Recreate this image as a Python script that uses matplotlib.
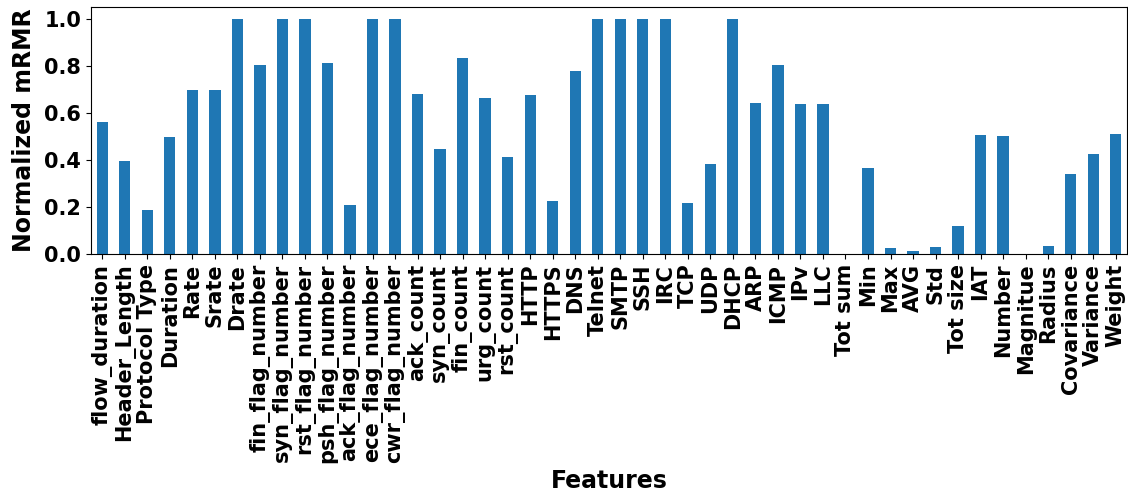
import matplotlib
matplotlib.use("Agg")
import matplotlib.pyplot as plt
import numpy as np

features = [
    "flow_duration", "Header_Length", "Protocol Type", "Duration", "Rate",
    "Srate", "Drate", "fin_flag_number", "syn_flag_number", "rst_flag_number",
    "psh_flag_number", "ack_flag_number", "ece_flag_number", "cwr_flag_number",
    "ack_count", "syn_count", "fin_count", "urg_count", "rst_count", "HTTP",
    "HTTPS", "DNS", "Telnet", "SMTP", "SSH", "IRC", "TCP", "UDP", "DHCP",
    "ARP", "ICMP", "IPv", "LLC", "Tot sum", "Min", "Max", "AVG", "Std",
    "Tot size", "IAT", "Number", "Magnitue", "Radius", "Covariance",
    "Variance", "Weight",
]

mrmr_scores = [
    0.561, 0.395, 0.189, 0.499, 0.699,
    0.699, 0.998, 0.803, 1.000, 1.000,
    0.814, 0.209, 0.998, 0.998,
    0.679, 0.446, 0.834, 0.662, 0.414, 0.677,
    0.225, 0.779, 0.998, 0.998, 0.998, 0.998, 0.216, 0.382, 0.998,
    0.643, 0.803, 0.638, 0.638, 0.0, 0.365, 0.027, 0.014, 0.031,
    0.118, 0.505, 0.503, 0.0, 0.033, 0.340,
    0.426, 0.509,
]

yticks = [0.0, 0.2, 0.4, 0.6, 0.8, 1.0]

fig = plt.figure(figsize=(11.28, 4.95), dpi=100)
ax = fig.add_axes([91 / 1128, 1 - 254 / 495, 1036 / 1128, 247 / 495])

x = np.arange(len(features))
ax.bar(x, mrmr_scores, width=0.5, color="#1f77b4")
ax.set_xlim(-0.5, len(features) - 0.5)
ax.set_ylim(0, 1.05)
ax.set_xticks(x)
ax.set_xticklabels(features, rotation=90, fontsize=15, fontweight="bold")
ax.set_yticks(yticks)
ax.set_yticklabels([f"{v:.1f}" for v in yticks], fontsize=15, fontweight="bold")
ax.set_ylabel("Normalized mRMR", fontsize=17, fontweight="bold", labelpad=6)
ax.set_xlabel("Features", fontsize=17, fontweight="bold")

fig.savefig("out.png", dpi=100)
